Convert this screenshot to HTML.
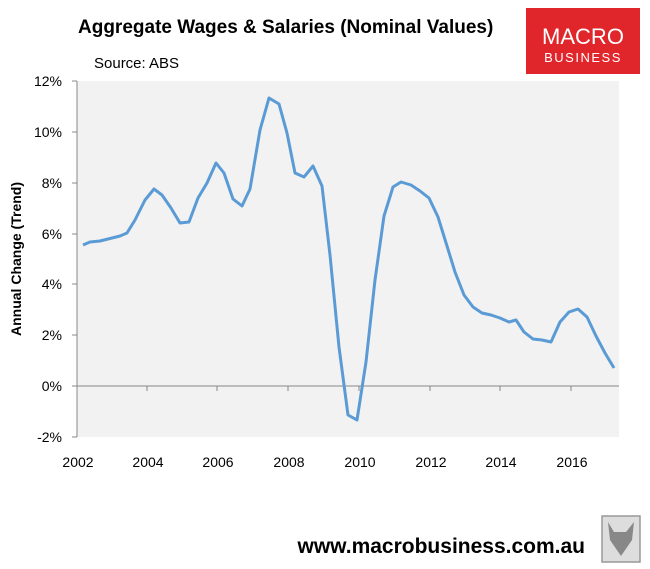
<!DOCTYPE html>
<html><head><style>
body{margin:0;width:650px;height:569px;background:#fff;overflow:hidden;font-family:"Liberation Sans",Calibri,sans-serif;}
</style></head><body>
<svg width="650" height="569" xmlns="http://www.w3.org/2000/svg" style="position:absolute;left:0;top:0">
<text x="78" y="33" font-family="Liberation Sans, sans-serif" font-weight="bold" font-size="19" fill="#000">Aggregate Wages &amp; Salaries (Nominal Values)</text>
<text x="94" y="68" font-family="Liberation Sans, sans-serif" font-size="15" fill="#000">Source: ABS</text>
<rect x="526" y="8" width="114" height="66" fill="#e0262a"/>
<text x="583" y="44" text-anchor="middle" font-family="Liberation Sans, sans-serif" font-size="22" fill="#fff">MACRO</text>
<text x="583" y="62" text-anchor="middle" font-family="Liberation Sans, sans-serif" font-size="13" letter-spacing="1.5" fill="#fff">BUSINESS</text>
<rect x="77" y="81" width="542" height="356" fill="#f2f2f2"/>
<line x1="77" y1="81" x2="77" y2="437" stroke="#888" stroke-width="1"/>
<g stroke="#888" stroke-width="1">
<line x1="72" y1="81" x2="77" y2="81"/><line x1="72" y1="132" x2="77" y2="132"/><line x1="72" y1="183" x2="77" y2="183"/><line x1="72" y1="234" x2="77" y2="234"/><line x1="72" y1="284" x2="77" y2="284"/><line x1="72" y1="335" x2="77" y2="335"/><line x1="72" y1="386" x2="619" y2="386"/><line x1="72" y1="437" x2="77" y2="437"/>
<line x1="147" y1="386" x2="147" y2="391"/><line x1="217" y1="386" x2="217" y2="391"/><line x1="288" y1="386" x2="288" y2="391"/><line x1="359" y1="386" x2="359" y2="391"/><line x1="430" y1="386" x2="430" y2="391"/><line x1="500" y1="386" x2="500" y2="391"/><line x1="571" y1="386" x2="571" y2="391"/>
</g>
<g font-family="Liberation Sans, sans-serif" font-size="14" fill="#000" text-anchor="end">
<text x="62" y="86">12%</text><text x="62" y="137">10%</text><text x="62" y="188">8%</text><text x="62" y="239">6%</text><text x="62" y="289">4%</text><text x="62" y="340">2%</text><text x="62" y="391">0%</text><text x="62" y="442">-2%</text>
</g>
<g font-family="Liberation Sans, sans-serif" font-size="14" fill="#000" text-anchor="middle">
<text x="78" y="467">2002</text><text x="148" y="467">2004</text><text x="218" y="467">2006</text><text x="289" y="467">2008</text><text x="360" y="467">2010</text><text x="431" y="467">2012</text><text x="501" y="467">2014</text><text x="572" y="467">2016</text>
</g>
<text transform="translate(21,259) rotate(-90)" text-anchor="middle" font-family="Liberation Sans, sans-serif" font-weight="bold" font-size="14" fill="#000">Annual Change (Trend)</text>
<polyline fill="none" stroke="#5b9bd5" stroke-width="3" stroke-linejoin="round" points="83,245 90,242 100,241 112,238 120,236 127,233 135,220 145,200 154,189 162,195 171,208 180,223 189,222 198,198 207,183 216,163 224,173 233,199 242,206 250,189 260,130 269,98 279,104 287,133 295,173 304,177 313,166 322,186 330,255 339,347 348,415 357,420 366,362 375,280 384,216 393,187 401,182 411,185 420,191 429,198 438,217 447,246 455,272 464,295 473,307 482,313 491,315 500,318 509,322 516,320 524,332 533,339 542,340 551,342 560,322 569,312 578,309 587,317 596,336 605,353 614,368"/>
<text x="585" y="553" text-anchor="end" font-family="Liberation Sans, sans-serif" font-weight="bold" font-size="21" fill="#000">www.macrobusiness.com.au</text>
<rect x="602" y="516" width="38" height="46" fill="#ddd" stroke="#999" stroke-width="1.5"/>
<path d="M608 522 L614 532 L626 532 L634 522 L632 540 L621 556 L610 540 Z" fill="#888"/>
</svg>
</body></html>
